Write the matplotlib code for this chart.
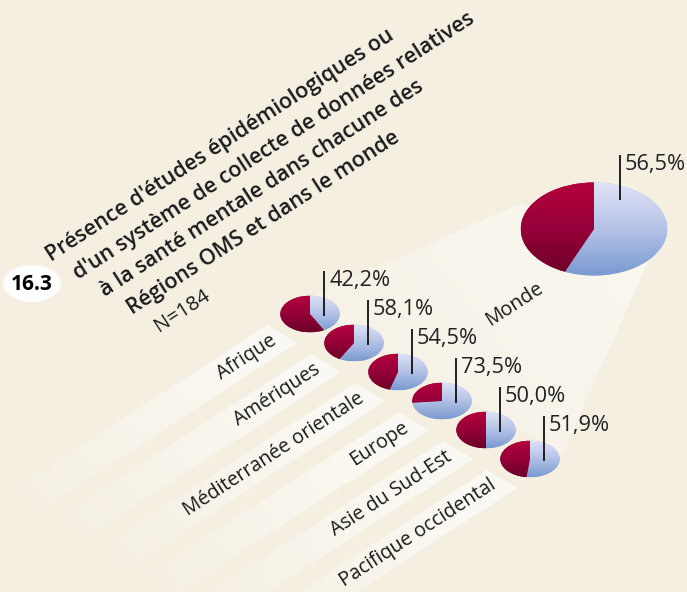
import numpy as np
import matplotlib
matplotlib.use('Agg')
import matplotlib.pyplot as plt
from matplotlib.colors import LinearSegmentedColormap, to_rgb
from matplotlib.patches import Ellipse, Polygon

# ---------------- data ----------------
regions = ['Afrique', 'Amériques', 'Méditerranée orientale', 'Europe',
           'Asie du Sud-Est', 'Pacifique occidental']
values = [42.2, 58.1, 54.5, 73.5, 50.0, 51.9]
world_label = 'Monde'
world_value = 56.5
title_lines = ["Présence d'études épidémiologiques ou",
               "d'un système de collecte de données relatives",
               "à la santé mentale dans chacune des",
               "Régions OMS et dans le monde"]
subtitle = 'N=184'
fig_number = '16.3'

def pct(v):
    return f'{v:.1f}'.replace('.', ',') + '%'

# ---------------- layout / style ----------------
W, H = 687, 592
BG = '#f5efe2'
TXT = '#1a1a1a'
FONT = ['Open Sans', 'DejaVu Sans']
ANG = 33.0
ca, sa = np.cos(np.radians(ANG)), np.sin(np.radians(ANG))
d_back = np.array([-ca, sa])          # down-left along text direction

pie0 = np.array([310.0, 314.0])        # first small pie centre (px)
pie_step = np.array([44.0, 29.0])
pie_w, pie_h = 60, 37
world_c = np.array([594.0, 229.0])
world_w, world_h = 148, 94

blue_cmap = LinearSegmentedColormap.from_list('b', ['#e1e3f7', '#b3c2e6', '#7a99d0'])
red_cmap = LinearSegmentedColormap.from_list('r', ['#b4003c', '#96003a', '#6a0026'])

fig = plt.figure(figsize=(W / 100, H / 100), dpi=100, facecolor=BG)
ax = fig.add_axes([0, 0, 1, 1])
ax.set_facecolor(BG)
ax.axis('off')

XX, YY = np.meshgrid(np.arange(W) + 0.5, np.arange(H) + 0.5)


def faded_poly(pts, origin, direction, solid, fade, amax, zorder):
    s = (XX - origin[0]) * direction[0] + (YY - origin[1]) * direction[1]
    a = np.clip(1 - (s - solid) / fade, 0, 1) * amax
    rgba = np.ones((H, W, 4))
    rgba[..., :3] = to_rgb('#fcfbf7')
    rgba[..., 3] = a
    poly = Polygon(pts, closed=True, facecolor='none', edgecolor='none')
    ax.add_patch(poly)
    im = ax.imshow(rgba, extent=(0, W, H, 0), zorder=zorder,
                   interpolation='bilinear', aspect='auto')
    im.set_clip_path(poly)


# world beam
beam = [(522, 203), (648, 262), (562, 455), (300, 301)]
dvec = np.array([-1.0, 0.8]); dvec /= np.linalg.norm(dvec)
faded_poly(beam, world_c, dvec, 20, 420, 0.6, 1)

renderer = fig.canvas.get_renderer()


def fit_size(s, target, **kw):
    t = ax.text(0, 0, s, fontsize=10, family=FONT, **kw)
    w = t.get_window_extent(renderer).width
    t.remove()
    return 10 * target / w


lab_size = fit_size('Méditerranée orientale', 212)
# region bands and labels
centers = [pie0 + i * pie_step for i in range(len(regions))]
for c, name in zip(centers, regions):
    T = c + np.array([-43, 11])
    B = c + np.array([-13, 29])
    L = 420
    pts = [tuple(T), tuple(B), tuple(B + L * d_back), tuple(T + L * d_back)]
    faded_poly(pts, T, d_back, 40, 270, 0.8, 2)
    mid = (T + B) / 2 + 9 * d_back
    ax.text(mid[0], mid[1], name, rotation=ANG, rotation_mode='anchor',
            ha='right', va='center', fontsize=lab_size, family=FONT,
            color=TXT, zorder=5)

# Monde label
ax.text(514, 304, world_label, rotation=ANG, rotation_mode='anchor',
        ha='center', va='center', fontsize=lab_size, family=FONT,
        color=TXT, zorder=5)

# title
title_size = fit_size(title_lines[1], 475, weight='semibold')
start = np.array([51.0, 262.0])
line_step = np.array([27.0, 17.5])
for i, line in enumerate(title_lines):
    p = start + i * line_step
    ax.text(p[0], p[1], line, rotation=ANG, rotation_mode='anchor',
            ha='left', va='baseline', fontsize=title_size, family=FONT,
            weight='semibold', color=TXT, zorder=5)
p = start + 4 * line_step
ax.text(p[0], p[1], subtitle, rotation=ANG, rotation_mode='anchor',
        ha='left', va='baseline', fontsize=title_size * 0.95, family=FONT,
        color=TXT, zorder=5)

# figure number badge
ax.add_patch(Ellipse((32, 283.5), 58, 37, facecolor='white', edgecolor='none', zorder=4))
ax.text(32, 284, fig_number, ha='center', va='center', fontsize=15,
        family=FONT, weight='bold', color='black', zorder=5)

ax.set_xlim(0, W)
ax.set_ylim(H, 0)

# ---------------- pies ----------------
grad = np.linspace(0, 1, 256).reshape(-1, 1)


def draw_pie(c, w, h, v):
    rect = [(c[0] - w / 2) / W, 1 - (c[1] + h / 2) / H, w / W, h / H]
    pa = fig.add_axes(rect)
    pa.axis('off')
    wedges, _ = pa.pie([v, 100 - v], startangle=90, counterclock=False,
                       colors=['#a9bbe3', '#96003a'],
                       wedgeprops=dict(linewidth=0))
    for wdg, cmap in zip(wedges, [blue_cmap, red_cmap]):
        im = pa.imshow(grad, cmap=cmap, extent=(-1, 1, -1, 1),
                       aspect='auto', zorder=2, interpolation='bilinear')
        im.set_clip_path(wdg)
    pa.set_xlim(-1.01, 1.01)
    pa.set_ylim(-1.01, 1.01)
    pa.set_aspect('auto')
    return pa


for c, v in zip(centers, values):
    draw_pie(c, pie_w, pie_h, v)
draw_pie(world_c, world_w, world_h, world_value)

# ---------------- value lines & labels (overlay) ----------------
top = fig.add_axes([0, 0, 1, 1])
top.patch.set_alpha(0)
top.axis('off')
top.set_xlim(0, W)
top.set_ylim(H, 0)
pct_size = fit_size('42,2%', 61)
for c, v in zip(centers, values):
    x = c[0] + 14
    y0, y1 = c[1] + 2, c[1] - 43
    top.plot([x, x], [y0, y1], color='#111111', lw=1.3, solid_capstyle='butt')
    top.text(x + 5, y1 + 15, pct(v), ha='left', va='baseline',
             fontsize=pct_size, family=FONT, color='#222222')
x = world_c[0] + 26
y0, y1 = world_c[1] - 29, world_c[1] - 74
top.plot([x, x], [y0, y1], color='#111111', lw=1.3, solid_capstyle='butt')
top.text(x + 5, y1 + 15, pct(world_value), ha='left', va='baseline',
         fontsize=pct_size, family=FONT, color='#222222')

fig.savefig('out.png', dpi=100, facecolor=BG)
